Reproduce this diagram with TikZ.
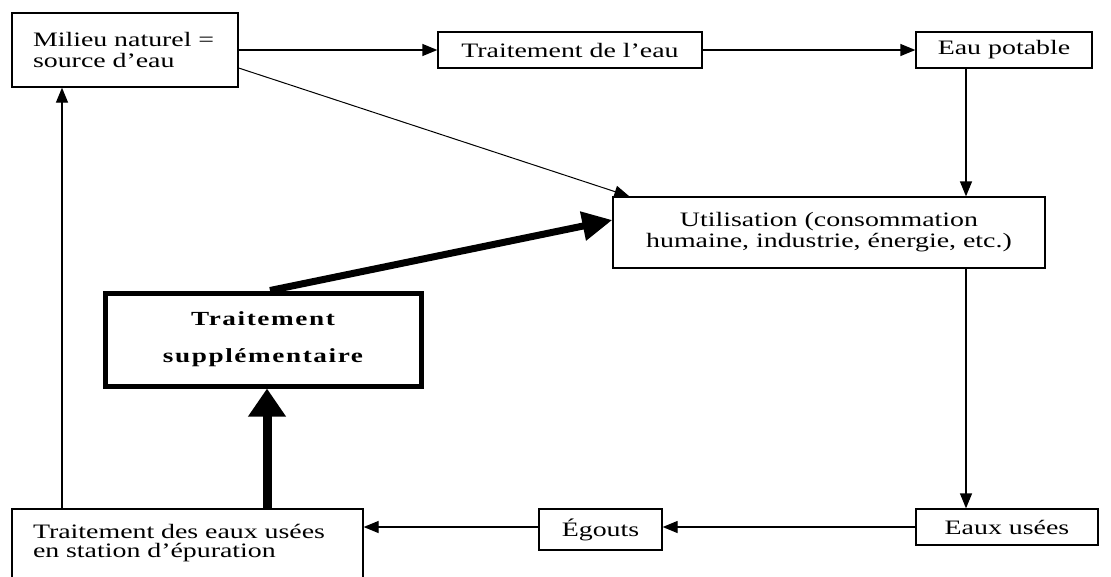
\documentclass[tikz,border=0pt]{standalone}
\usepackage{fontspec}
\setmainfont[FakeStretch=1.36]{Liberation Serif}
\usetikzlibrary{arrows.meta}
\begin{document}
\begin{tikzpicture}[x=1pt,y=-1pt,
  box/.style={draw, line width=1.3pt, inner sep=0pt, align=center,
    font=\fontsize{20.5}{21}\selectfont},
  leftbox/.style={box, align=left, inner xsep=21pt},
  boldbox/.style={draw, line width=5pt, inner sep=0pt, align=center,
    font=\fontsize{20}{37}\selectfont\bfseries\addfontfeatures{LetterSpace=8}},
  thinarrow/.style={line width=1.3pt, -{Triangle[length=15pt,width=12pt]}},
  thinline/.style={line width=1pt, -{Triangle[length=15pt,width=12pt]}},
  vthick/.style={line width=9pt, -{Triangle[length=28pt,width=36pt]}},
  dthick/.style={line width=7pt, -{Triangle[length=30pt,width=28pt]}}]
\path[use as bounding box] (0,0) rectangle (1111,576);
\clip (0,0) rectangle (1111,576);
\fill[white] (0,0) rectangle (1111,576);

\node[leftbox, minimum width=226pt, minimum height=74pt, text width=184pt] (milieu) at (125,50) {Milieu naturel =\\source d'eau};
\node[box, minimum width=264pt, minimum height=36pt] (teau) at (570,50) {Traitement de l'eau};
\node[box, minimum width=176pt, minimum height=36pt] (potable) at (1004,50) {Eau potable};
\node[box, minimum width=432pt, minimum height=71pt] (util) at (829,232.5) {Utilisation (consommation\\humaine, industrie, énergie, etc.)};
\node[boldbox, minimum width=316pt, minimum height=93pt] (supp) at (263,339.5) {Traitement\\supplémentaire};
\node[leftbox, minimum width=351pt, minimum height=69pt, text width=309pt, font=\fontsize{20.5}{19}\selectfont] (bot) at (187.5,543.5) {Traitement des eaux usées\\en station d'épuration};
\node[box, minimum width=123pt, minimum height=41pt] (egouts) at (600.5,529.5) {Égouts};
\node[box, minimum width=182pt, minimum height=36pt] (eaux) at (1007,527) {Eaux usées};

\coordinate (x966) at (966,0);
\coordinate (x62) at (62,0);
\coordinate (x267) at (267,0);

\draw[thinarrow] (milieu.east) -- (teau.west);
\draw[thinarrow] (teau.east) -- (potable.west);
\draw[thinarrow] (x966 |- potable.south) -- (x966 |- util.north);
\draw[thinline] ([yshift=-18pt]milieu.east) -- ([xshift=17pt]util.north west);
\draw[thinarrow] (x966 |- util.south) -- (x966 |- eaux.north);
\draw[thinarrow] (eaux.west) -- (eaux.west -| egouts.east);
\draw[thinarrow] (egouts.west |- eaux.west) -- (eaux.west -| bot.east);
\draw[thinarrow] (x62 |- bot.north) -- (x62 |- milieu.south);
\draw[vthick] (x267 |- bot.north) -- (x267 |- supp.south);
\draw[dthick] ([xshift=7pt]supp.north) -- ([yshift=12.5pt]util.west);
\end{tikzpicture}
\end{document}
